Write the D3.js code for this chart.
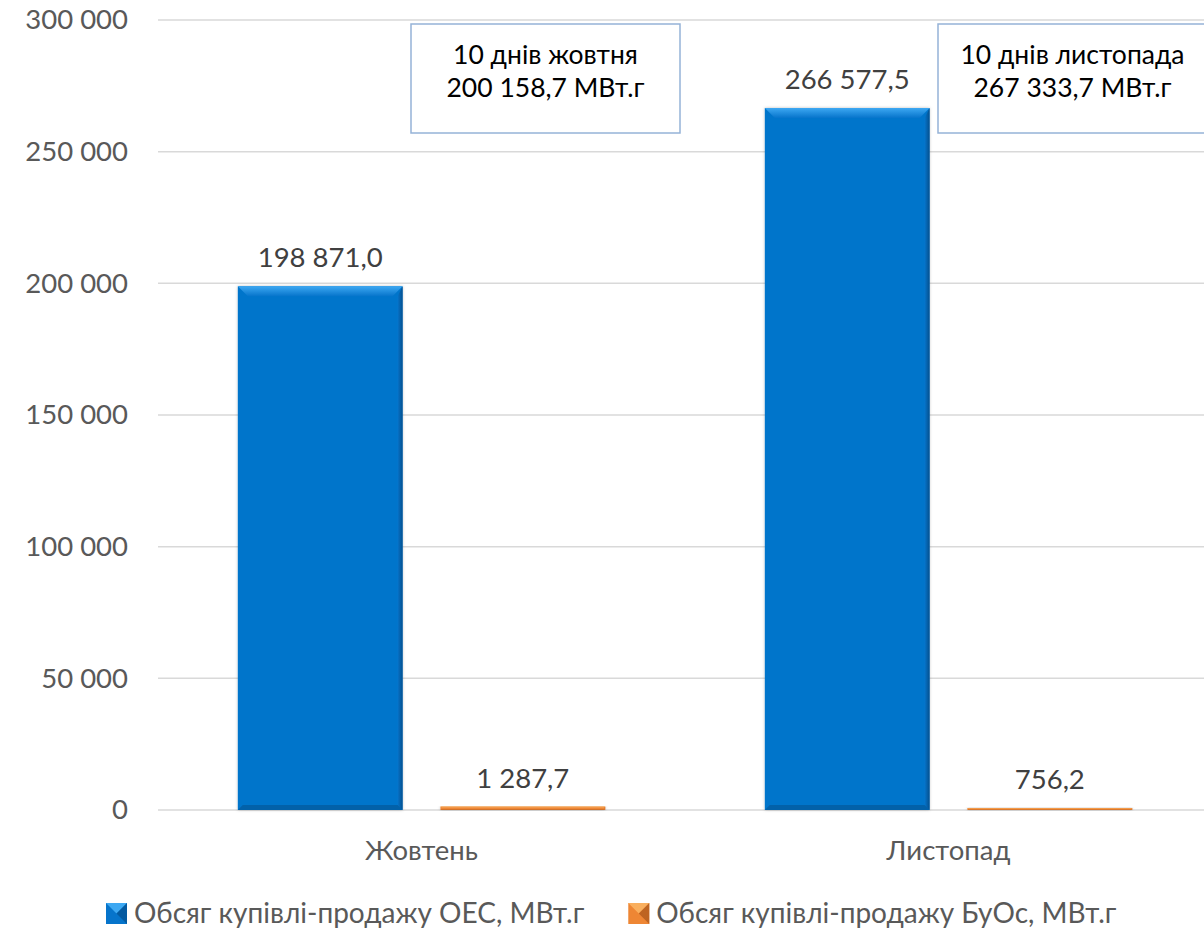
<!DOCTYPE html>
<html>
<head>
<meta charset="utf-8">
<script src="https://cdn.jsdelivr.net/npm/d3@7"></script>
<style>
  body { margin: 0; background: #fff; }
  svg { display: block; font-family: Lato, "Noto Sans", sans-serif; }
</style>
</head>
<body>
<svg width="1204" height="940"></svg>
<script>
// data
var categories = ['Жовтень', 'Листопад'];
var series = ['Обсяг купівлі-продажу ОЕС, МВт.г', 'Обсяг купівлі-продажу БуОс, МВт.г'];
var oesValues = [198871.0, 266577.5];
var buosValues = [1287.7, 756.2];
var valueLabels = [['198 871,0', '1 287,7'], ['266 577,5', '756,2']];
var notes = [['10 днів жовтня', '200 158,7 МВт.г'], ['10 днів листопада', '267 333,7 МВт.г']];
var yTicks = [0, 50000, 100000, 150000, 200000, 250000, 300000];

var colors = [
  { main: '#0674CB', light: '#3DA8F2', dark: '#04508E' },
  { main: '#EE8634', light: '#F9AF5E', dark: '#A9561A' }
];

var svg = d3.select('svg');
var fmt = function(v) { return d3.format(',')(v).replace(/,/g, ' '); };

var x0 = d3.scaleBand().domain(categories).range([158, 1212]);
var x1 = d3.scaleBand().domain(d3.range(series.length))
  .range([0, x0.bandwidth()]).paddingInner(0.187).paddingOuter(0.394);
var y = d3.scaleLinear().domain([0, 300000]).range([810, 20]);

// grid
svg.append('g').selectAll('line').data(yTicks).enter().append('line')
  .attr('x1', 158).attr('x2', 1204)
  .attr('y1', function(d) { return y(d); }).attr('y2', function(d) { return y(d); })
  .attr('stroke', '#D9D9D9').attr('stroke-width', 1.5);

// y axis labels
var yAxis = d3.axisLeft(y).tickValues(yTicks).tickFormat(fmt).tickSize(0).tickPadding(0);
var ax = svg.append('g').attr('transform', 'translate(128,0)').call(yAxis);
ax.select('.domain').remove();
ax.selectAll('text').attr('font-size', 27.5).attr('fill', '#595959')
  .attr('font-family', 'Lato, sans-serif');

// shadow
var defs = svg.append('defs');
var f = defs.append('filter').attr('id', 'sh').attr('x', '-10%').attr('y', '-10%')
  .attr('width', '120%').attr('height', '120%');
f.append('feDropShadow').attr('dx', 0).attr('dy', 0).attr('stdDeviation', 1.6)
  .attr('flood-color', '#000').attr('flood-opacity', 0.25);

colors.forEach(function(c, i) {
  var g = defs.append('linearGradient').attr('id', 'top' + i)
    .attr('x1', 0).attr('y1', 0).attr('x2', 0).attr('y2', 1);
  g.append('stop').attr('offset', 0).attr('stop-color', c.light);
  g.append('stop').attr('offset', 1).attr('stop-color', c.main);
  var r = defs.append('linearGradient').attr('id', 'rgt' + i)
    .attr('x1', 0).attr('y1', 0).attr('x2', 1).attr('y2', 0);
  r.append('stop').attr('offset', 0).attr('stop-color', c.main);
  r.append('stop').attr('offset', 1).attr('stop-color', c.dark);
});

function bevelBar(g, x, yTop, w, h, ci) {
  var c = colors[ci];
  var b = Math.min(10, h / 2, w / 2);
  var yb = yTop + h;
  g.append('rect').attr('x', x).attr('y', yTop).attr('width', w).attr('height', h)
    .attr('fill', c.main).attr('filter', 'url(#sh)');
  // top bevel
  g.append('polygon').attr('points', [[x, yTop], [x + w, yTop], [x + w - b, yTop + b], [x + b, yTop + b]].join(' '))
    .attr('fill', 'url(#top' + ci + ')');
  // right bevel
  g.append('polygon').attr('points', [[x + w, yTop], [x + w, yb], [x + w - b * 0.5, yb - b * 0.5], [x + w - b * 0.5, yTop + b]].join(' '))
    .attr('fill', 'url(#rgt' + ci + ')');
  // bottom bevel
  g.append('polygon').attr('points', [[x, yb], [x + w, yb], [x + w - b * 0.5, yb - b * 0.5], [x + b * 0.5, yb - b * 0.5]].join(' '))
    .attr('fill', c.dark).attr('opacity', 0.55);
}

var data = categories.map(function(cat, i) {
  return { cat: cat, vals: [oesValues[i], buosValues[i]], labels: valueLabels[i], note: notes[i] };
});

var groups = svg.selectAll('g.cat').data(data).enter().append('g')
  .attr('class', 'cat')
  .attr('transform', function(d) { return 'translate(' + x0(d.cat) + ',0)'; });

groups.each(function(d) {
  var g = d3.select(this);
  d.vals.forEach(function(v, si) {
    var bx = x1(si), bw = x1.bandwidth();
    var top = y(v), h = Math.max(y(0) - y(v), 2);
    bevelBar(g, bx, y(0) - h, bw, h, si);
    g.append('text').attr('x', bx + bw / 2).attr('y', top - 19)
      .attr('text-anchor', 'middle').attr('font-size', 27.5).attr('fill', '#404040')
      .text(d.labels[si]);
  });
  // category label
  g.append('text').attr('x', x0.bandwidth() / 2).attr('y', 860)
    .attr('text-anchor', 'middle').attr('font-size', 27.5).attr('fill', '#595959')
    .text(d.cat);
  // note box
  var nx = 253, nw = 269;
  g.append('rect').attr('x', nx).attr('y', 24).attr('width', nw).attr('height', 109)
    .attr('fill', '#fff').attr('stroke', '#95B3D7').attr('stroke-width', 1.5);
  d.note.forEach(function(t, k) {
    g.append('text').attr('x', nx + nw / 2).attr('y', 64 + k * 33)
      .attr('text-anchor', 'middle').attr('font-size', 26.5).attr('fill', '#000')
      .text(t);
  });
});

// legend, laid out left to right
var leg = svg.append('g').attr('transform', 'translate(106,903)');
var lx = 0;
series.forEach(function(s, i) {
  var c = colors[i];
  var g = leg.append('g').attr('transform', 'translate(' + lx + ',0)');
  g.append('rect').attr('width', 21).attr('height', 21).attr('fill', c.main);
  g.append('polygon').attr('points', '0,0 21,0 10.5,10.5').attr('fill', c.light);
  g.append('polygon').attr('points', '21,0 21,21 10.5,10.5').attr('fill', c.dark).attr('opacity', 0.7);
  var t = g.append('text').attr('x', 28).attr('y', 20).attr('font-size', 28)
    .attr('fill', '#595959').text(s);
  lx += 28 + t.node().getComputedTextLength() + 44;
});
</script>
</body>
</html>
